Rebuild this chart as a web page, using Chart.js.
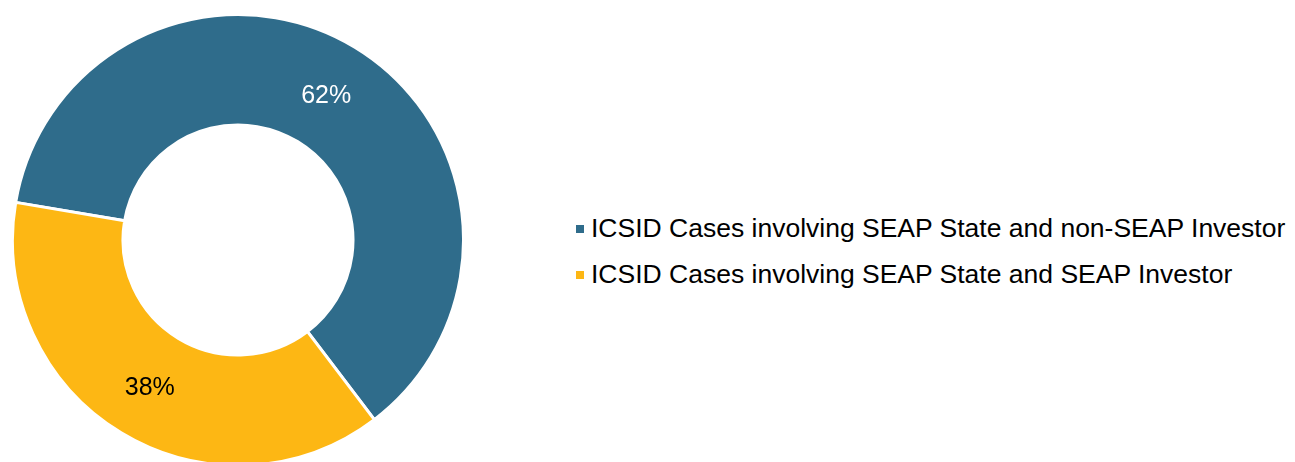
<!DOCTYPE html>
<html>
<head>
<meta charset="utf-8">
<script src="https://cdn.jsdelivr.net/npm/chart.js@4"></script>
<style>
    html, body { margin: 0; padding: 0; background: #fff; overflow: hidden; }
    body { width: 1295px; height: 462px; position: relative; font-family: Arial, "Liberation Sans", sans-serif; }
    #wrap { position: absolute; left: 11px; top: 13px; width: 454px; height: 454px; }
    #legend { position: absolute; left: 576px; top: 205px; margin: 0; padding: 0; list-style: none; }
    #legend li { font-size: 26.5px; color: #000; display: flex; align-items: center; height: 46.6px; white-space: nowrap; }
    #legend span.box { display: inline-block; width: 8px; height: 8px; margin-right: 7px; margin-top: 1px; }
</style>
</head>
<body>
<div id="wrap"><canvas id="donut"></canvas></div>
<ul id="legend"></ul>
<script>
const labels = ['ICSID Cases involving SEAP State and non-SEAP Investor', 'ICSID Cases involving SEAP State and SEAP Investor'];
const shares = [62, 38];
const colors = ['#2f6c8b', '#fdb714'];
const labelColors = ['#ffffff', '#000000'];

const percentLabels = {
    id: 'percentLabels',
    afterDatasetsDraw(chart) {
        const ctx = chart.ctx;
        const meta = chart.getDatasetMeta(0);
        ctx.save();
        ctx.font = '25px Arial, "Liberation Sans", sans-serif';
        ctx.textAlign = 'center';
        ctx.textBaseline = 'middle';
        meta.data.forEach((arc, i) => {
            const pos = arc.tooltipPosition();
            ctx.fillStyle = labelColors[i];
            ctx.fillText(shares[i] + '%', pos.x, pos.y + 2);
        });
        ctx.restore();
    }
};

new Chart(document.getElementById('donut'), {
    type: 'doughnut',
    data: {
        labels: labels,
        datasets: [{
            data: shares,
            backgroundColor: colors,
            borderColor: '#ffffff',
            borderWidth: 3
        }]
    },
    options: {
        responsive: true,
        maintainAspectRatio: false,
        animation: false,
        cutout: '51%',
        rotation: -80.4,
        layout: { padding: 0 },
        plugins: {
            legend: { display: false },
            tooltip: { enabled: false }
        }
    },
    plugins: [percentLabels]
});

const legend = document.getElementById('legend');
labels.forEach((label, i) => {
    const li = document.createElement('li');
    li.innerHTML = `<span class="box" style="background:${colors[i]}"></span>${label}`;
    legend.appendChild(li);
});
</script>
</body>
</html>
